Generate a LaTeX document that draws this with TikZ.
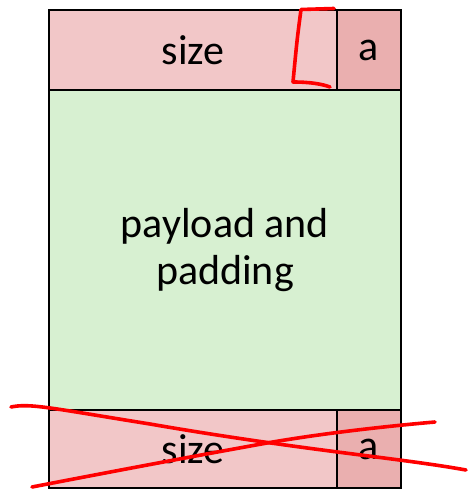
\documentclass[tikz,border=0pt]{standalone}
\usepackage{fontspec}
\setmainfont{Carlito}
\definecolor{hdrpink}{RGB}{242,199,200}
\definecolor{hdrdark}{RGB}{234,175,175}
\definecolor{paygreen}{RGB}{215,240,209}
\definecolor{markred}{RGB}{255,0,0}
\begin{document}
\begin{tikzpicture}[x=1pt,y=-1pt,
  cell/.style={draw=black,line width=2pt,inner sep=0pt,anchor=north west,
    font=\fontsize{42}{47}\selectfont},
  redstroke/.style={draw=markred,line width=3.6pt,line cap=round,line join=round}]
\useasboundingbox (0,0) rectangle (467,489);
% header
\node[cell,fill=hdrpink,minimum width=288pt,minimum height=80pt] (hsize) at (48,9) {size};
\node[cell,fill=hdrdark,minimum width=64pt,minimum height=80pt] (ha) at (336,9) {a};
% payload
\node[cell,fill=paygreen,minimum width=352pt,minimum height=320pt,align=center] (pay) at (48,89) {payload and\\padding};
% footer
\node[cell,fill=hdrpink,minimum width=288pt,minimum height=78pt] (fsize) at (48,409) {size};
\node[cell,fill=hdrdark,minimum width=64pt,minimum height=78pt] (fa) at (336,409) {a};
% red bracket
\coordinate (b1) at (334,8.5);
\coordinate (b2) at (301,9.5);
\coordinate (b3) at (293,82);
\coordinate (b4) at (330,87);
\draw[redstroke] (b1) -- (b2) .. controls (297,40) .. (b3) .. controls (310,82) and (322,84) .. (b4);
% red cross
\coordinate (c1) at (11,407);
\coordinate (c2) at (466,470);
\coordinate (c3) at (32,487);
\coordinate (c4) at (435,422);
\draw[redstroke] (c1) .. controls (30,403) and (50,408) .. (150,424) .. controls (300,450) and (400,458) .. (c2);
\draw[redstroke] (c3) .. controls (120,470) and (200,455) .. (267,443) .. controls (330,432) and (400,425) .. (c4);
\end{tikzpicture}
\end{document}
